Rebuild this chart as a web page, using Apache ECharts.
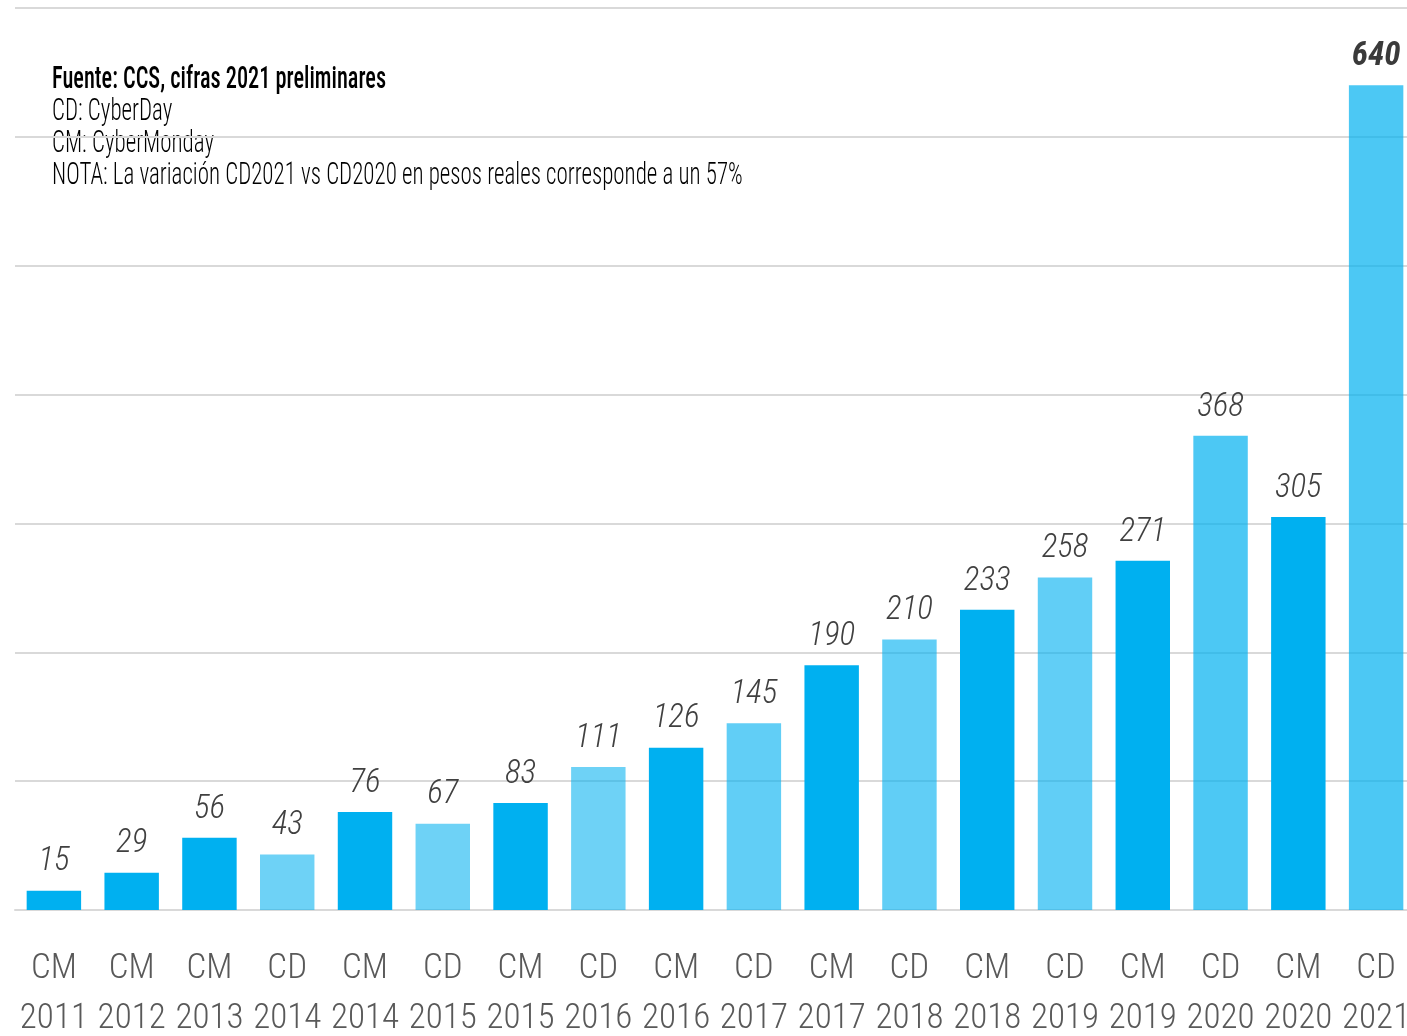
<!DOCTYPE html>
<html>
<head>
<meta charset="utf-8">
<script src="https://cdn.jsdelivr.net/npm/echarts@6/dist/echarts.min.js"></script>
<style>
  html, body { margin: 0; padding: 0; background: #fff; width: 100%; height: 100%; overflow: hidden; }
  #chart { width: 100vw; height: 100vh; }
</style>
</head>
<body>
<div id="chart"></div>
<script>
// Ventas CyberDay (CD) / CyberMonday (CM), millones de US$
const eventTypes = ['CM','CM','CM','CD','CM','CD','CM','CD','CM','CD','CM','CD','CM','CD','CM','CD','CM','CD'];
const eventYears = ['2011','2012','2013','2014','2014','2015','2015','2016','2016','2017','2017','2018','2018','2019','2019','2020','2020','2021'];
const salesValues = [15, 29, 56, 43, 76, 67, 83, 111, 126, 145, 190, 210, 233, 258, 271, 368, 305, 640];
const yTicks = [0, 100, 200, 300, 400, 500, 600, 700];
const noteLines = [
  'Fuente: CCS, cifras 2021 preliminares',
  'CD: CyberDay',
  'CM: CyberMonday',
  'NOTA: La variación CD2021 vs CD2020 en pesos reales corresponde a un 57%'
];

const FONT = '"Roboto Condensed", "Open Sans Condensed", Roboto, sans-serif';
const categories = eventTypes.map((t, i) => t + '\n' + eventYears[i]);

// CyberMonday bars are solid; CyberDay bars are a translucent tint of the same blue
function barColor(type, year) {
  if (type === 'CM') return '#00b0f0';
  const y = +year;
  const a = y >= 2020 ? 0.70 : (y >= 2017 ? 0.62 : 0.57);
  return 'rgba(0,176,240,' + a + ')';
}

const lastIdx = salesValues.length - 1;
const barData = salesValues.map((v, i) => ({
  value: v,
  itemStyle: { color: barColor(eventTypes[i], eventYears[i]) },
  label: i === lastIdx ? { fontWeight: 'bold', color: '#3a3a3a' } : undefined
}));

const chart = echarts.init(document.getElementById('chart'), null, { renderer: 'canvas' });
chart.setOption({
  animation: false,
  backgroundColor: '#ffffff',
  // the last category band runs a few pixels past the right edge, and the
  // two-line labels are allowed to run off the bottom
  grid: { left: 15, right: -8, top: 8, bottom: 126, containLabel: false, outerBoundsMode: 'none' },
  xAxis: {
    type: 'category',
    data: categories,
    axisLine: { show: true, lineStyle: { color: '#d9d9d9', width: 2 } },
    axisTick: { show: false },
    axisLabel: {
      interval: 0,
      margin: 34,
      fontFamily: FONT,
      fontWeight: 300,
      fontSize: 35,
      lineHeight: 50,
      color: '#595959'
    }
  },
  yAxis: {
    type: 'value',
    min: yTicks[0],
    max: yTicks[yTicks.length - 1],
    interval: yTicks[1] - yTicks[0],
    axisLabel: { show: false },
    axisLine: { show: false },
    axisTick: { show: false },
    splitLine: { show: true, lineStyle: { color: '#d9d9d9', width: 2 } }
  },
  series: [{
    type: 'bar',
    data: barData,
    barCategoryGap: '30%',
    label: {
      show: true,
      position: 'top',
      distance: 12,
      fontFamily: FONT,
      fontStyle: 'italic',
      fontWeight: 300,
      fontSize: 33,
      color: '#404040'
    }
  }],
  graphic: noteLines.map((txt, i) => ({
    type: 'text',
    x: 52,
    y: 80 + i * 32,
    scaleX: i === 0 ? 0.72 : 0.74,
    silent: true,
    style: {
      text: txt,
      fontFamily: FONT,
      fontSize: 31,
      fontWeight: i === 0 ? 500 : 300,
      fill: '#000000',
      textVerticalAlign: 'middle',
      verticalAlign: 'middle'
    }
  }))
});
</script>
</body>
</html>
